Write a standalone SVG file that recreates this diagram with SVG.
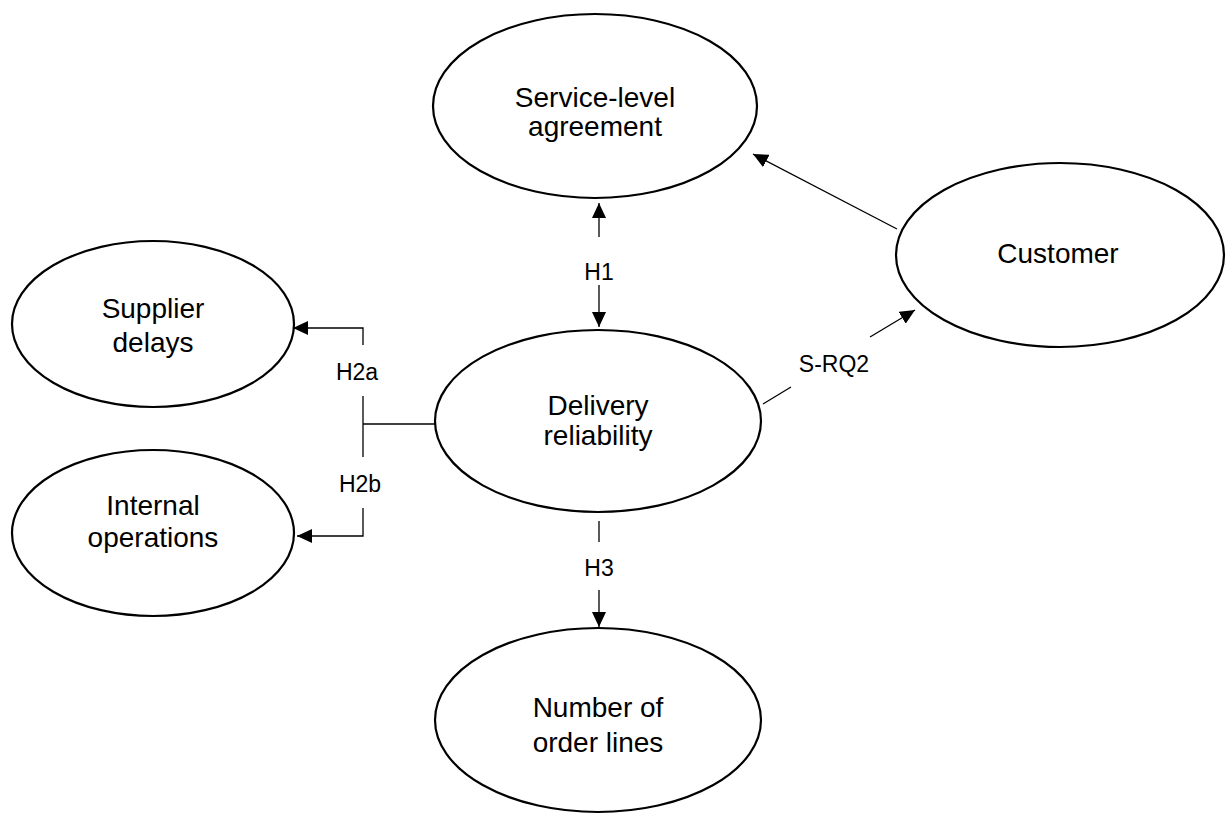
<svg xmlns="http://www.w3.org/2000/svg" width="1226" height="814" viewBox="0 0 1226 814">
  <style>
    .node { fill: #ffffff; stroke: #000000; stroke-width: 2.2; }
    .ntext { font-family: "Liberation Sans", Arial, sans-serif; font-size: 28px; fill: #000000; text-anchor: middle; }
    .ltext { font-family: "Liberation Sans", Arial, sans-serif; font-size: 23px; fill: #000000; text-anchor: middle; }
    .edge { fill: none; stroke: #000000; stroke-width: 1.3; }
  </style>
  <defs>
    <marker id="arrow" markerUnits="userSpaceOnUse" markerWidth="16" markerHeight="14" refX="15" refY="7" orient="auto">
      <path d="M0,0 L15,7 L0,14 z" fill="#000000"/>
    </marker>
  </defs>
  <rect width="1226" height="814" fill="#ffffff"/>

  <g id="sla">
    <ellipse class="node" cx="595" cy="106" rx="162" ry="92"/>
    <text class="ntext" x="595" y="107">Service-level</text>
    <text class="ntext" x="595" y="136">agreement</text>
  </g>

  <g id="customer">
    <ellipse class="node" cx="1060" cy="255" rx="164" ry="92"/>
    <text class="ntext" x="1058" y="263">Customer</text>
  </g>

  <g id="supplier-delays">
    <ellipse class="node" cx="153" cy="324" rx="141" ry="83"/>
    <text class="ntext" x="153" y="318">Supplier</text>
    <text class="ntext" x="153" y="352">delays</text>
  </g>

  <g id="internal-operations">
    <ellipse class="node" cx="153" cy="533" rx="141" ry="83"/>
    <text class="ntext" x="153" y="515">Internal</text>
    <text class="ntext" x="153" y="547">operations</text>
  </g>

  <g id="delivery-reliability">
    <ellipse class="node" cx="598" cy="421" rx="163" ry="91"/>
    <text class="ntext" x="598" y="415">Delivery</text>
    <text class="ntext" x="598" y="445">reliability</text>
  </g>

  <g id="order-lines">
    <ellipse class="node" cx="598" cy="720" rx="163" ry="92"/>
    <text class="ntext" x="598" y="717">Number of</text>
    <text class="ntext" x="598" y="752">order lines</text>
  </g>

  <g id="connectors">
    <!-- H1: two-headed link between delivery reliability and the SLA -->
    <line class="edge" x1="599" y1="237" x2="599" y2="203" marker-end="url(#arrow)"/>
    <line class="edge" x1="599" y1="285" x2="599" y2="327" marker-end="url(#arrow)"/>
    <text class="ltext" x="599" y="280">H1</text>

    <!-- H2a / H2b: bracket from delivery reliability to the two causes -->
    <line class="edge" x1="363" y1="424" x2="435" y2="424"/>
    <line class="edge" x1="363" y1="396" x2="363" y2="457"/>
    <polyline class="edge" points="363,345 363,328 293,328" marker-end="url(#arrow)"/>
    <polyline class="edge" points="363,508 363,536 297,536" marker-end="url(#arrow)"/>
    <text class="ltext" x="357" y="380">H2a</text>
    <text class="ltext" x="360" y="492">H2b</text>

    <!-- H3 -->
    <line class="edge" x1="599" y1="521" x2="599" y2="542"/>
    <line class="edge" x1="599" y1="590" x2="599" y2="627" marker-end="url(#arrow)"/>
    <text class="ltext" x="599" y="576">H3</text>

    <!-- S-RQ2 -->
    <line class="edge" x1="763" y1="404" x2="791" y2="387"/>
    <line class="edge" x1="870" y1="337" x2="915" y2="310" marker-end="url(#arrow)"/>
    <text class="ltext" x="834" y="372">S-RQ2</text>

    <!-- customer to SLA -->
    <line class="edge" x1="897" y1="229" x2="753" y2="154" marker-end="url(#arrow)"/>
  </g>
</svg>
